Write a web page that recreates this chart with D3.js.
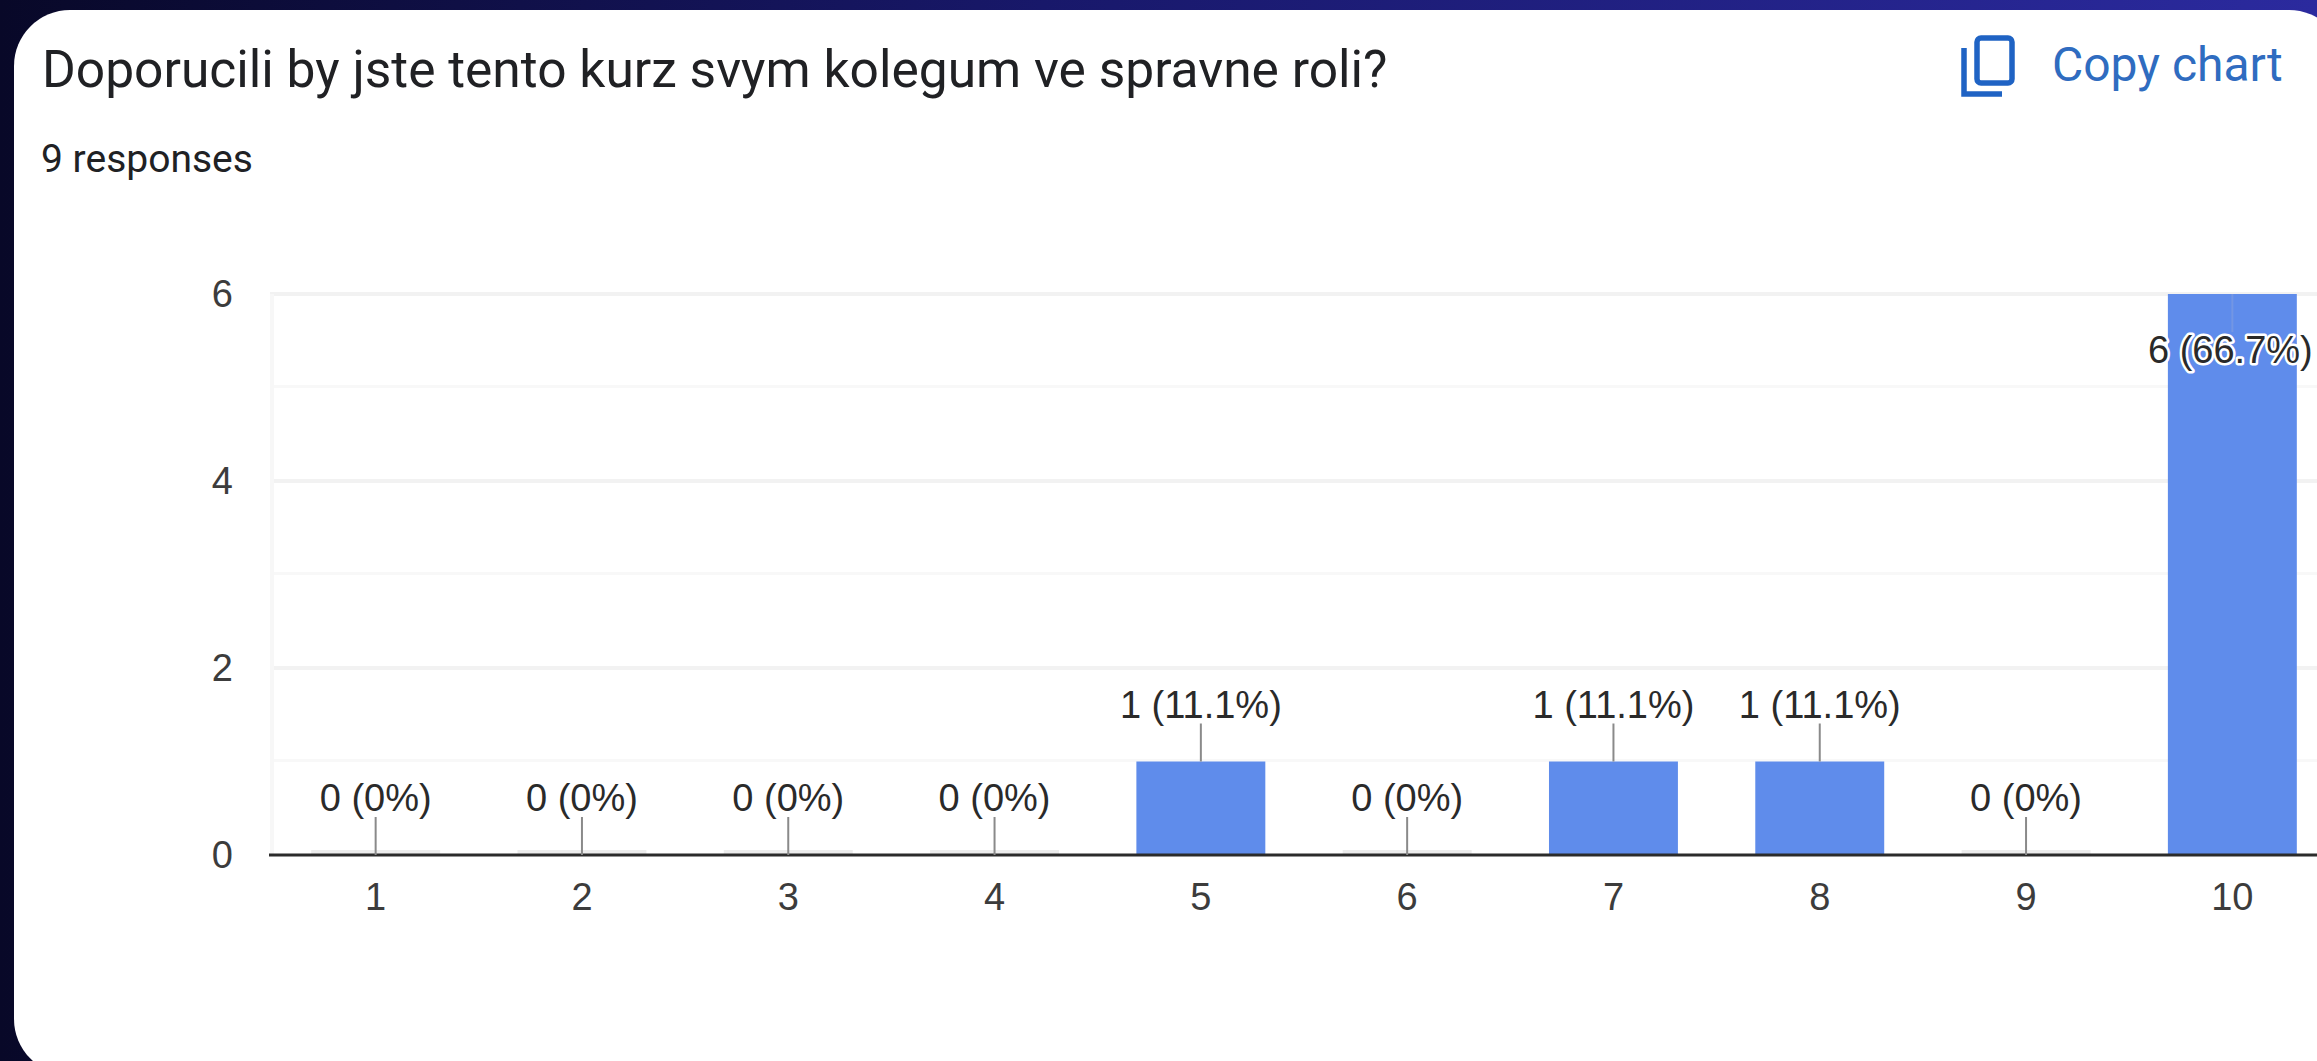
<!DOCTYPE html>
<html>
<head>
<meta charset="utf-8">
<script src="https://cdn.jsdelivr.net/npm/d3@7"></script>
<style>
    html, body { margin: 0; padding: 0; background: #0a0a30; overflow: hidden; }
</style>
</head>
<body>
<div id="chart"></div>
<script>
const categories = ["1", "2", "3", "4", "5", "6", "7", "8", "9", "10"];
const counts = [0, 0, 0, 0, 1, 0, 1, 1, 0, 6];
const percents = ["0%", "0%", "0%", "0%", "11.1%", "0%", "11.1%", "11.1%", "0%", "66.7%"];
const yTicks = [0, 2, 4, 6];
const yMinorTicks = [1, 3, 5];
const titleText = "Doporucili by jste tento kurz svym kolegum ve spravne roli?";
const subtitleText = "9 responses";
const copyText = "Copy chart";

const width = 2317, height = 1061;
const plot = { left: 272.5, right: 2335.5, top: 294, bottom: 855, edge: 270 };
const textFont = "Roboto, sans-serif";
const chartFont = "'Liberation Sans', Arial, sans-serif";
const chartFontSize = 38;

let svg = d3.select("#chart")
    .append("svg")
    .attr("width", width)
    .attr("height", height)
    .style("display", "block");

//=================================================
// Background and card (card runs past the window on the right and bottom)
//=================================================
let defs = svg.append("defs");
let bg = defs.append("linearGradient").attr("id", "bg");
bg.append("stop").attr("offset", "0%").attr("stop-color", "#080828");
bg.append("stop").attr("offset", "45%").attr("stop-color", "#18186a");
bg.append("stop").attr("offset", "100%").attr("stop-color", "#2b2a9e");
svg.append("rect").attr("width", width).attr("height", height).attr("fill", "url(#bg)");

svg.append("rect")
    .attr("x", 14).attr("y", 10)
    .attr("width", 2331).attr("height", 1065)
    .attr("rx", 56).attr("ry", 56)
    .attr("fill", "#ffffff");

//=================================================
// Header
//=================================================
svg.append("text")
    .attr("x", 42).attr("y", 87)
    .attr("font-family", textFont).attr("font-size", 51.5)
    .attr("fill", "#202124")
    .text(titleText);
svg.append("text")
    .attr("x", 41).attr("y", 172)
    .attr("font-family", textFont).attr("font-size", 39)
    .attr("fill", "#202124")
    .text(subtitleText);

let copyIcon = svg.append("g")
    .attr("fill", "none").attr("stroke", "#1f63c4").attr("stroke-width", 5.5);
copyIcon.append("rect")
    .attr("x", 1977).attr("y", 38).attr("width", 35).attr("height", 45).attr("rx", 4);
copyIcon.append("path").attr("d", "M1964,48 V94 H2002");
svg.append("text")
    .attr("x", 2052).attr("y", 81)
    .attr("font-family", textFont).attr("font-size", 48)
    .attr("fill", "#2f6cc0")
    .text(copyText);

//=================================================
// Scales
//=================================================
let scaleX = d3.scaleBand()
    .domain(categories)
    .range([plot.left, plot.right])
    .paddingInner(0.375)
    .paddingOuter(0.1875);
let scaleY = d3.scaleLinear().domain([0, 6]).range([plot.bottom, plot.top]);

//=================================================
// Grid
//=================================================
let graph = svg.append("g");
graph.selectAll(".minor").data(yMinorTicks).join("line")
    .attr("class", "minor")
    .attr("x1", plot.edge).attr("x2", width)
    .attr("y1", d => scaleY(d) - 1).attr("y2", d => scaleY(d) - 1)
    .attr("stroke", "#f8f8f8").attr("stroke-width", 3);
graph.selectAll(".major").data(yTicks.slice(1)).join("line")
    .attr("class", "major")
    .attr("x1", plot.edge).attr("x2", width)
    .attr("y1", d => scaleY(d)).attr("y2", d => scaleY(d))
    .attr("stroke", "#f2f2f2").attr("stroke-width", 4);
graph.append("line")
    .attr("x1", plot.edge + 2).attr("x2", plot.edge + 2)
    .attr("y1", plot.top).attr("y2", plot.bottom)
    .attr("stroke", "#f7f7f7").attr("stroke-width", 4);

//=================================================
// Bars
//=================================================
categories.forEach((c, i) => {
    if (counts[i] > 0) {
        graph.append("rect")
            .attr("x", scaleX(c))
            .attr("width", scaleX.bandwidth())
            .attr("y", scaleY(counts[i]))
            .attr("height", scaleY(0) - scaleY(counts[i]))
            .attr("fill", "#5f8ceb");
    } else {
        // zero count bars leave a faint strip on the baseline
        graph.append("rect")
            .attr("x", scaleX(c))
            .attr("width", scaleX.bandwidth())
            .attr("y", scaleY(0) - 5)
            .attr("height", 5)
            .attr("fill", "#ececec");
    }
});

//=================================================
// Axis
//=================================================
let axisX = graph.append("g")
    .attr("transform", "translate(0," + plot.bottom + ")")
    .call(d3.axisBottom(scaleX).tickSize(0).tickPadding(28));
axisX.select(".domain").remove();
axisX.append("line")
    .attr("x1", plot.edge - 1).attr("x2", width)
    .attr("stroke", "#2b2b2b").attr("stroke-width", 3);
axisX.selectAll(".tick text")
    .attr("font-family", chartFont).attr("font-size", chartFontSize).attr("fill", "#3c3c3c");

let axisY = graph.append("g")
    .attr("transform", "translate(233,0)")
    .call(d3.axisLeft(scaleY).tickValues(yTicks).tickFormat(d3.format("d")).tickSize(0).tickPadding(0));
axisY.select(".domain").remove();
axisY.selectAll(".tick text")
    .attr("font-family", chartFont).attr("font-size", chartFontSize).attr("fill", "#3c3c3c");

//=================================================
// Leaders and value labels
//=================================================
const leaderLength = 38;
const labelGap = 6;
categories.forEach((c, i) => {
    let cx = scaleX(c) + scaleX.bandwidth() / 2;
    let inside = counts[i] === 6;
    let yTop = scaleY(counts[i]);
    graph.append("line")
        .attr("x1", cx).attr("x2", cx)
        .attr("y1", yTop).attr("y2", yTop + (inside ? leaderLength : -leaderLength))
        .attr("stroke", inside ? "#7396e4" : "#8a8a8a").attr("stroke-width", 2);
    let label = graph.append("text")
        .attr("x", inside ? cx - 2 : cx)
        .attr("y", inside ? yTop + 69 : yTop - leaderLength - labelGap)
        .attr("text-anchor", "middle")
        .attr("font-family", chartFont).attr("font-size", chartFontSize)
        .attr("fill", "#2a2a2a")
        .text(counts[i] + " (" + percents[i] + ")");
    if (inside) {
        label.attr("stroke", "#ffffff").attr("stroke-width", 5)
            .attr("paint-order", "stroke").attr("stroke-linejoin", "round");
    }
});
</script>
</body>
</html>
